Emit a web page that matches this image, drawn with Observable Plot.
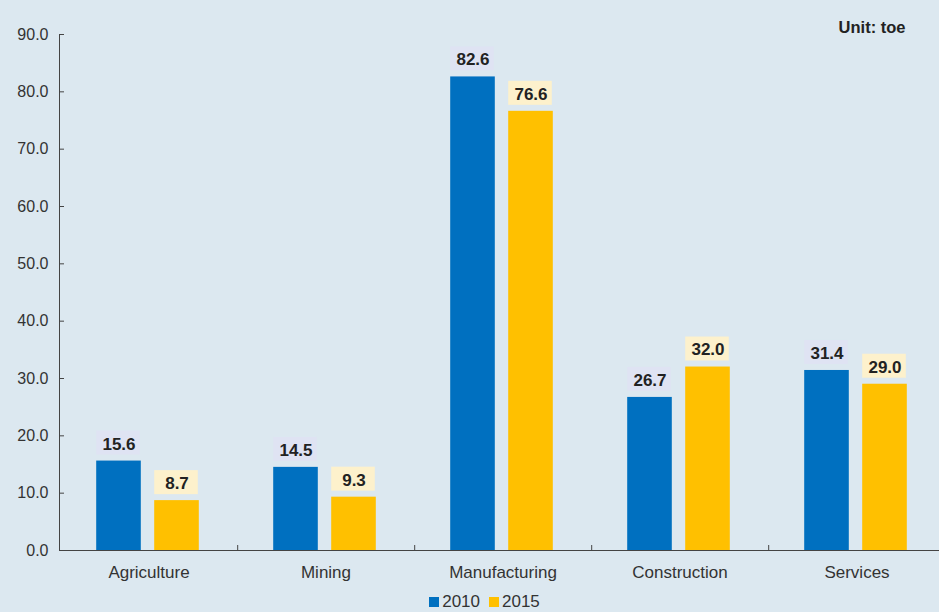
<!DOCTYPE html>
<html><head><meta charset="utf-8">
<script src="https://cdn.jsdelivr.net/npm/d3@7"></script>
<script src="https://cdn.jsdelivr.net/npm/@observablehq/plot@0.6"></script>
<style>
html,body{margin:0;padding:0;background:#dce8f0;}
body{width:939px;height:612px;overflow:hidden;font-family:"Liberation Sans",Arial,sans-serif;}
#chart{height:592px;overflow:hidden;}
#legend{display:flex;justify-content:center;gap:9px;font-size:17px;color:#333;line-height:19px;margin-left:30px;}
#legend span.sw{display:inline-block;width:10px;height:10px;margin-right:3px;}
</style></head>
<body><div id="chart"></div>
<div id="legend"></div>
<script>
const categories = ["Agriculture","Mining","Manufacturing","Construction","Services"];
const values2010 = [15.6, 14.5, 82.6, 26.7, 31.4];
const values2015 = [8.7, 9.3, 76.6, 32.0, 29.0];
const series = ["2010","2015"];
const yTicks = [0,10,20,30,40,50,60,70,80,90];
const colors = {"2010":"#0070c0","2015":"#ffc000"};
const labelBg = {"2010":"#dfe3f3","2015":"#fdf1cc"};

const d2010 = categories.map((c,i)=>({cat:c, year:"2010", v:values2010[i]}));
const d2015 = categories.map((c,i)=>({cat:c, year:"2015", v:values2015[i]}));

const W = 939, ML = 59, MR = -7, H = 592, MB = 42;
const band = (W-ML-MR)/categories.length;
const bw = 45, off = 29;
const inset2010 = {insetLeft: band/2-off-bw/2-1, insetRight: band/2+off-bw/2+1};
const inset2015 = {insetLeft: band/2+off-bw/2-1, insetRight: band/2-off-bw/2+1};

const font = '"Liberation Sans",Arial,sans-serif';
const plot = Plot.plot({
  width: W, height: H,
  marginLeft: ML, marginRight: MR, marginTop: 34, marginBottom: MB,
  style: {background: "transparent", fontFamily: font, fontSize: "16px", color: "#333", overflow: "hidden"},
  x: {domain: categories, padding: 0, label: null},
  y: {domain: [0, 90], label: null},
  marks: [
    Plot.axisY({ticks: yTicks, tickFormat: d3.format(".1f"), tickSize: 0, tickPadding: 11, fontSize: 16, fill: "#333"}),
    Plot.axisX({tickSize: 0, tickPadding: 15, fontSize: 17, fill: "#333"}),
    Plot.barY(d2010, {x: "cat", y: "v", fill: colors["2010"], ...inset2010}),
    Plot.barY(d2015, {x: "cat", y: "v", fill: colors["2015"], ...inset2015}),
    Plot.barY(d2010, {x: "cat", y1: "v", y2: "v", fill: labelBg["2010"], insetTop: -30, insetBottom: 6, insetLeft: inset2010.insetLeft, insetRight: inset2010.insetRight+1}),
    Plot.barY(d2015, {x: "cat", y1: "v", y2: "v", fill: labelBg["2015"], insetTop: -30, insetBottom: 6, insetLeft: inset2015.insetLeft, insetRight: inset2015.insetRight+1}),
    Plot.text(d2010, {x: "cat", y: "v", text: d => d.v.toFixed(1), dx: -off-1, dy: -17, fontWeight: "bold", fontSize: 17, fill: "#222"}),
    Plot.text(d2015, {x: "cat", y: "v", text: d => d.v.toFixed(1), dx: off-1, dy: -17, fontWeight: "bold", fontSize: 17, fill: "#222"}),
    Plot.frame({anchor: "left", stroke: "#444"}),
    Plot.ruleY([0], {stroke: "#444"}),
    Plot.ruleY(yTicks, {stroke: "#444", insetRight: W-ML-MR-5}),
    Plot.ruleX(categories, {x: d => d, y1: 0, y2: 0, dx: band/2, insetTop: -5, stroke: "#444"}),
    Plot.text(["Unit: toe"], {frameAnchor: "top-right", text: d => d, dx: -41, dy: -13, fontWeight: "bold", fontSize: 16.5, fill: "#222", textAnchor: "end"})
  ]
});
document.getElementById("chart").appendChild(plot);
const lg = document.getElementById("legend");
series.forEach(s => {
  const item = document.createElement("span");
  item.innerHTML = `<span class="sw" style="background:${colors[s]}"></span>${s}`;
  lg.appendChild(item);
});
</script>
</body></html>
